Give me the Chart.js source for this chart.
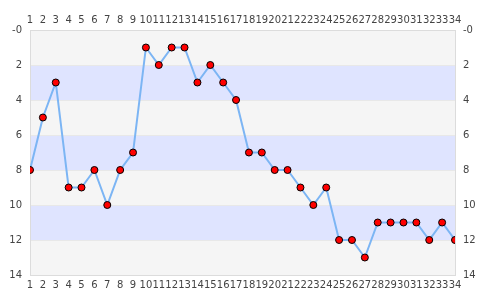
<!DOCTYPE html>
<html><head><meta charset="utf-8">
<script src="https://cdn.jsdelivr.net/npm/chart.js@4/dist/chart.umd.min.js"></script>
<style>html,body{margin:0;padding:0;background:#fff}#w{width:485px;height:300px}</style>
</head><body><div id="w"><canvas id="c" width="485" height="300"></canvas></div>
<script>
const positions = [1,2,3,4,5,6,7,8,9,10,11,12,13,14,15,16,17,18,19,20,21,22,23,24,25,26,27,28,29,30,31,32,33,34];
const ranks = [8,5,3,9,9,8,10,8,7,1,2,1,1,3,2,3,4,7,7,8,8,9,10,9,12,12,13,11,11,11,11,12,11,12];
const bandEdges = [0,2,4,6,8,10,12,14];
const bandColors = ['#f5f5f5','#dfe4ff'];

const bands = {
  id:'bands',
  beforeDraw(chart){
    const {ctx, chartArea:a, scales:{y}} = chart;
    ctx.save();
    for(let i=0;i<bandEdges.length-1;i++){
      const y1=y.getPixelForValue(bandEdges[i]), y2=y.getPixelForValue(bandEdges[i+1]);
      ctx.fillStyle=bandColors[i%2];
      ctx.fillRect(a.left, Math.min(y1,y2), a.right-a.left, Math.abs(y2-y1));
    }
    ctx.restore();
  }
};
const font={family:'DejaVu Sans', size:10};
const tickColor='#444';
const yTicks = {stepSize:2, color:tickColor, font, padding:8, callback:v=> v===0?'-0':String(v)};
const xTicks = {stepSize:1, autoSkip:false, maxRotation:0, color:tickColor, font, padding:4};
new Chart(document.getElementById('c'),{
  type:'line',
  data:{datasets:[{
    data: positions.map((p,i)=>({x:p,y:ranks[i]})),
    borderColor:'#7cb5f4', borderWidth:2,
    pointBackgroundColor:'#ff0000', pointBorderColor:'#000', pointBorderWidth:1, pointRadius:3.5,
    tension:0
  }]},
  options:{
    responsive:false, animation:false,
    plugins:{legend:{display:false}, tooltip:{enabled:false}},
    layout:{padding:0},
    scales:{
      x:{type:'linear', position:'bottom', min:1, max:34, ticks:xTicks,
         grid:{display:false, drawTicks:false}, border:{color:'#dcdcdc'},
         afterFit(s){s.height=25;}},
      x2:{type:'linear', position:'top', min:1, max:34, ticks:xTicks,
         grid:{display:false, drawTicks:false}, border:{color:'#dcdcdc'},
         afterFit(s){s.height=30;}},
      y:{type:'linear', position:'left', reverse:true, min:0, max:14, ticks:yTicks,
         grid:{color:'#e8e8e8', drawTicks:false}, border:{color:'#dcdcdc'},
         afterFit(s){s.width=30;}},
      y2:{type:'linear', position:'right', reverse:true, min:0, max:14, ticks:yTicks,
         grid:{display:false, drawTicks:false}, border:{color:'#dcdcdc'},
         afterFit(s){s.width=30;}}
    }
  },
  plugins:[bands]
});
</script></body></html>
